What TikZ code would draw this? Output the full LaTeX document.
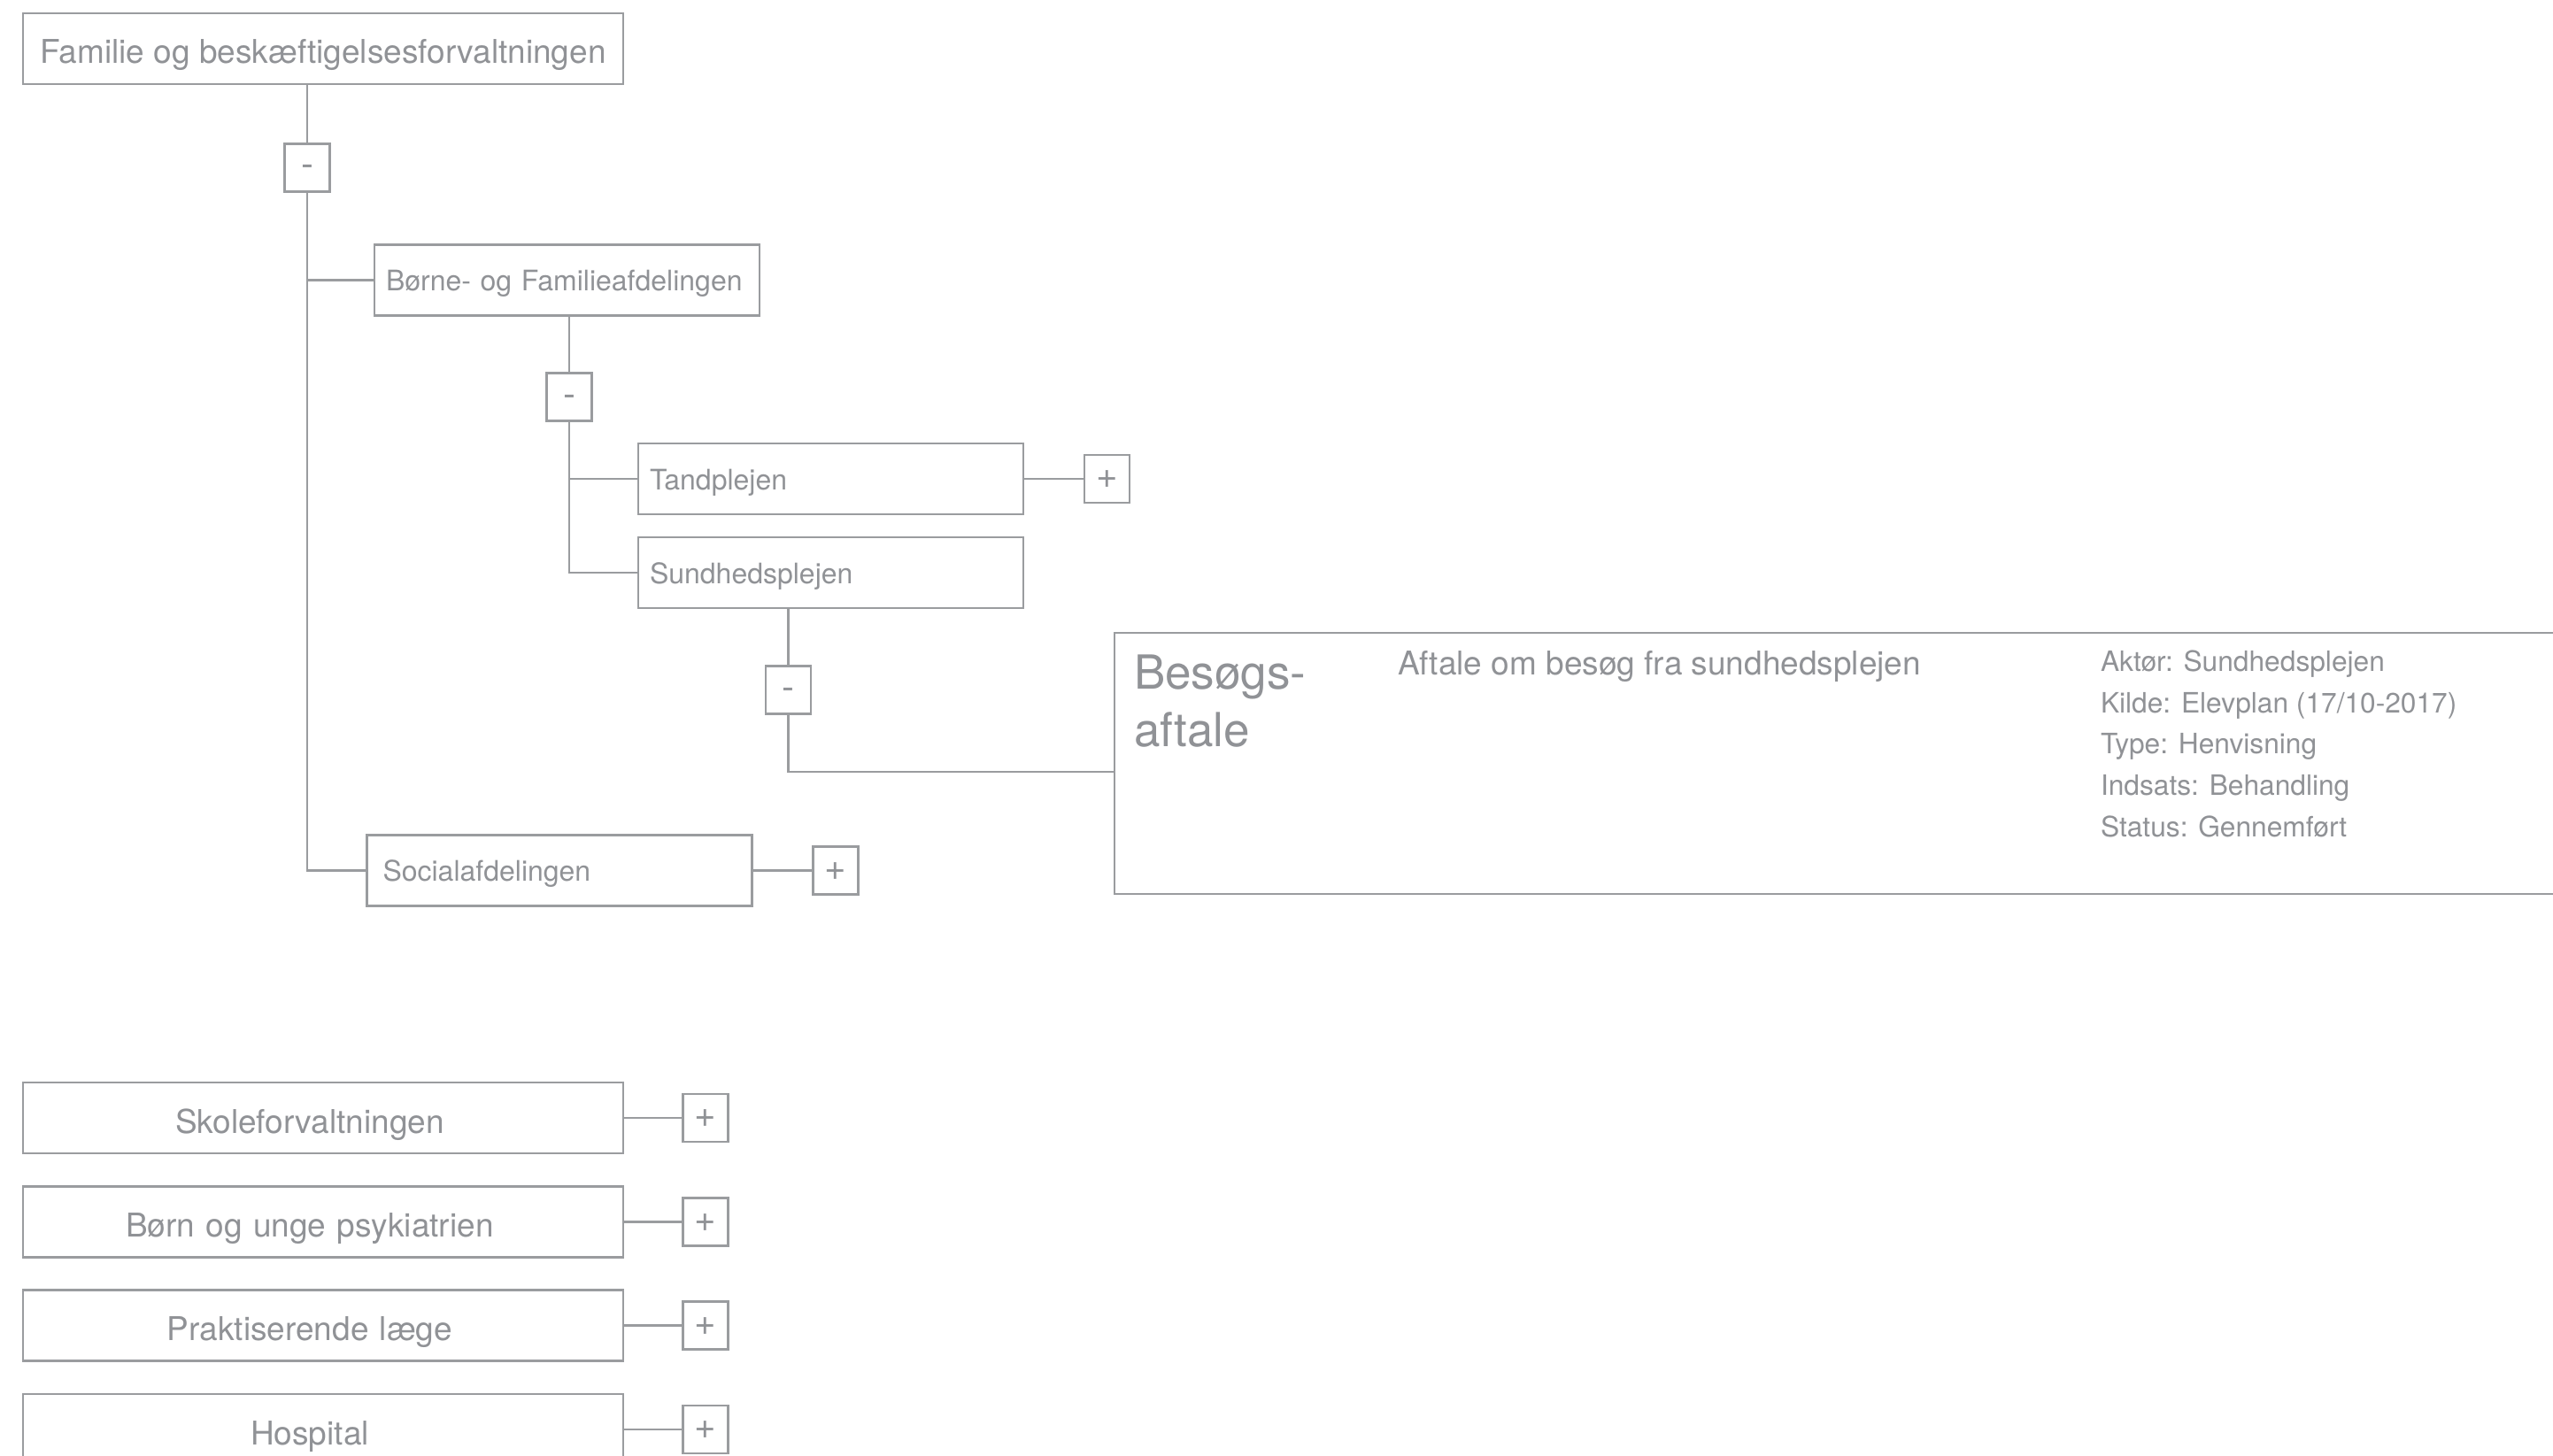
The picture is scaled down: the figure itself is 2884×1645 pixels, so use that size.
\documentclass[tikz,border=0pt]{standalone}
\usepackage{fontspec}
\setmainfont{TeX Gyre Heros}
\usepackage{xcolor}
\usepackage{tikz}
\usetikzlibrary{positioning}

\definecolor{linegray}{HTML}{9A9C9F}
\definecolor{textgray}{HTML}{909296}

\begin{document}
\begin{tikzpicture}[x=1pt, y=-1pt, line width=2.5pt, color=linegray,
  every node/.style={text=textgray, inner sep=0pt, outer sep=0pt},
  unitbox/.style={draw, rectangle, minimum width=678pt, minimum height=80pt, font=\fontsize{37}{44}\selectfont, text height=34pt, text depth=0pt},
  extbox/.style={unitbox, text width=648pt, align=center, execute at end node={\hspace*{30pt}}},
  subbox/.style={draw, rectangle, minimum width=435pt, minimum height=80pt, text width=409pt, inner xsep=13pt, align=left, font=\fontsize{32}{38}\selectfont, text height=24pt, text depth=0pt},
  togglebox/.style={draw, rectangle, minimum width=51pt, minimum height=54pt, font=\fontsize{42}{46}\selectfont, text height=21pt, text depth=0pt}]
\useasboundingbox (0,0) rectangle (2884,1645);
\clip (0,0) rectangle (2884,1645);

% tree
\node[unitbox] (fam) at (365,55) {Familie og beskæftigelsesforvaltningen};
\node[togglebox] (m1) at (347,189.5) {-};
\node[subbox] (born) at (640.5,316.5) {Børne- og Familieafdelingen};
\node[togglebox] (m2) at (643,448.5) {-};
\node[subbox] (tand) at (938.5,541) {Tandplejen};
\node[togglebox, right=69pt of tand] (tandplus) {+};
\node[subbox] (sund) at (938.5,647) {Sundhedsplejen};
\node[togglebox] (m3) at (890.5,779.5) {-};
\node[subbox, text width=399pt, inner xsep=18pt] (social) at (632,983.5) {Socialafdelingen};
\node[togglebox, right=69pt of social] (socialplus) {+};

% besoeg
\node[draw, rectangle, minimum width=1700pt, minimum height=295pt, anchor=north west] (besog) at (1259,715) {};
\node[anchor=north west, align=left, font=\fontsize{53}{65}\selectfont] (besogtitle) at (1281,740) {Besøgs-\\aftale};
\node[anchor=base west, font=\fontsize{37}{44}\selectfont] (besogtext) at (1579,762.7) {Aftale om besøg fra sundhedsplejen};
\node[anchor=north west, align=left, font=\fontsize{31.7}{46.6}\selectfont] (besoginfo) at (2373,735) {Aktør: Sundhedsplejen\\Kilde: Elevplan (17/10-2017)\\Type: Henvisning\\Indsats: Behandling\\Status: Gennemført};

\draw (fam.south -| m1) -- (m1);
\draw (m1) |- (social);
\draw (m1.south |- born) -- (born);
\draw (born.south -| m2) -- (m2);
\draw (m2) |- (sund);
\draw (m2.south |- tand) -- (tand);
\draw (tand) -- (tandplus);
\draw (sund.south -| m3) -- (m3);
\draw (m3) |- ([yshift=-9.5pt]besog.west);
\draw (social) -- (socialplus);

% other units
\node[extbox] (skole) at (365,1263) {Skoleforvaltningen};
\node[togglebox, right=67.5pt of skole] (skoleplus) {+};
\node[extbox] (psyk) at (365,1380.5) {Børn og unge psykiatrien};
\node[togglebox, right=67.5pt of psyk] (psykplus) {+};
\node[extbox] (laege) at (365,1497.5) {Praktiserende læge};
\node[togglebox, right=67.5pt of laege] (laegeplus) {+};
\node[extbox] (hosp) at (365,1615) {Hospital};
\node[togglebox, right=67.5pt of hosp] (hospplus) {+};

\draw (skole) -- (skoleplus);
\draw (psyk) -- (psykplus);
\draw (laege) -- (laegeplus);
\draw (hosp) -- (hospplus);
\end{tikzpicture}
\end{document}
